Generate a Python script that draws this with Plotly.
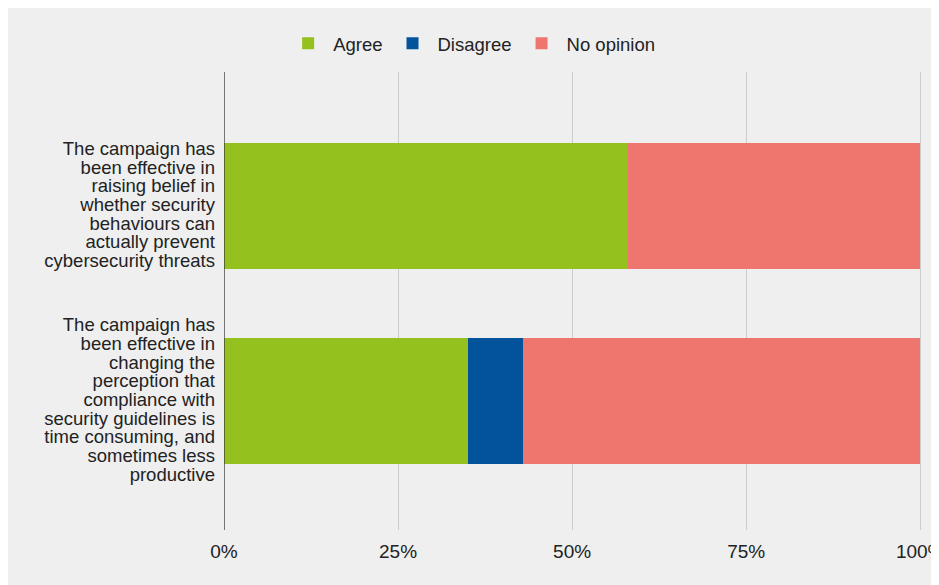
import plotly.graph_objects as go

statements = [
    "The campaign has<br>been effective in<br>raising belief in<br>whether security<br>behaviours can<br>actually prevent<br>cybersecurity threats",
    "The campaign has<br>been effective in<br>changing the<br>perception that<br>compliance with<br>security guidelines is<br>time consuming, and<br>sometimes less<br>productive",
]
agree = [0.58, 0.351]
disagree = [0.0, 0.079]
no_opinion = [0.42, 0.57]

colors = {"Agree": "#95c11f", "Disagree": "#03529c", "No opinion": "#ef766e"}


def tight(label, size=18.5):
    # wrap each line in a bigger span so lines sit closer than plotly's 1.3 spacing
    return "<br>".join(f'<span style="font-size:{size}px">{ln}</span>' for ln in label.split("<br>"))


cats = ["s1", "s2"]

fig = go.Figure()
for name, vals in [("Agree", agree), ("Disagree", disagree), ("No opinion", no_opinion)]:
    fig.add_trace(go.Bar(
        y=cats, x=vals, name=name, orientation="h",
        marker=dict(color=colors[name], line=dict(width=0)),
        width=0.65,
        hoverinfo="x+name",
    ))

# page body has an 8px margin, so the figure is sized/shifted to compensate
fig.update_layout(
    barmode="stack",
    width=931, height=577,
    paper_bgcolor="#efefef", plot_bgcolor="#efefef",
    margin=dict(l=216, r=16, t=64, b=55, autoexpand=False),
    font=dict(family="Liberation Sans, Arial, sans-serif", color="#222222", size=18),
    legend=dict(
        orientation="h", xref="container", x=0.498, xanchor="center",
        yref="container", y=0.938, yanchor="middle",
        font=dict(size=18.5), itemwidth=40, traceorder="normal",
    ),
)

fig.update_xaxes(
    range=[0, 1.004], tickvals=[0, 0.25, 0.5, 0.75, 1],
    ticktext=["0%", "25%", "50%", "75%", "100%"],
    tickfont=dict(size=19), showgrid=True, gridcolor="#cccccc", gridwidth=1,
    zeroline=False, showline=False, ticks="", ticklabelstandoff=8,
    ticklabeloverflow="allow",
)
fig.update_yaxes(
    type="category", range=[1.662, -0.687],
    tickvals=cats, ticktext=[tight(s) for s in statements],
    tickfont=dict(size=14.4), showgrid=False, zeroline=False,
    showline=False, ticks="", ticklabelstandoff=8,
)
# dark baseline at 0%
fig.add_shape(type="line", xref="x", yref="paper", x0=0, x1=0, y0=0, y1=1,
              line=dict(color="#333333", width=1.3), layer="above")

fig.write_html("out.html")
